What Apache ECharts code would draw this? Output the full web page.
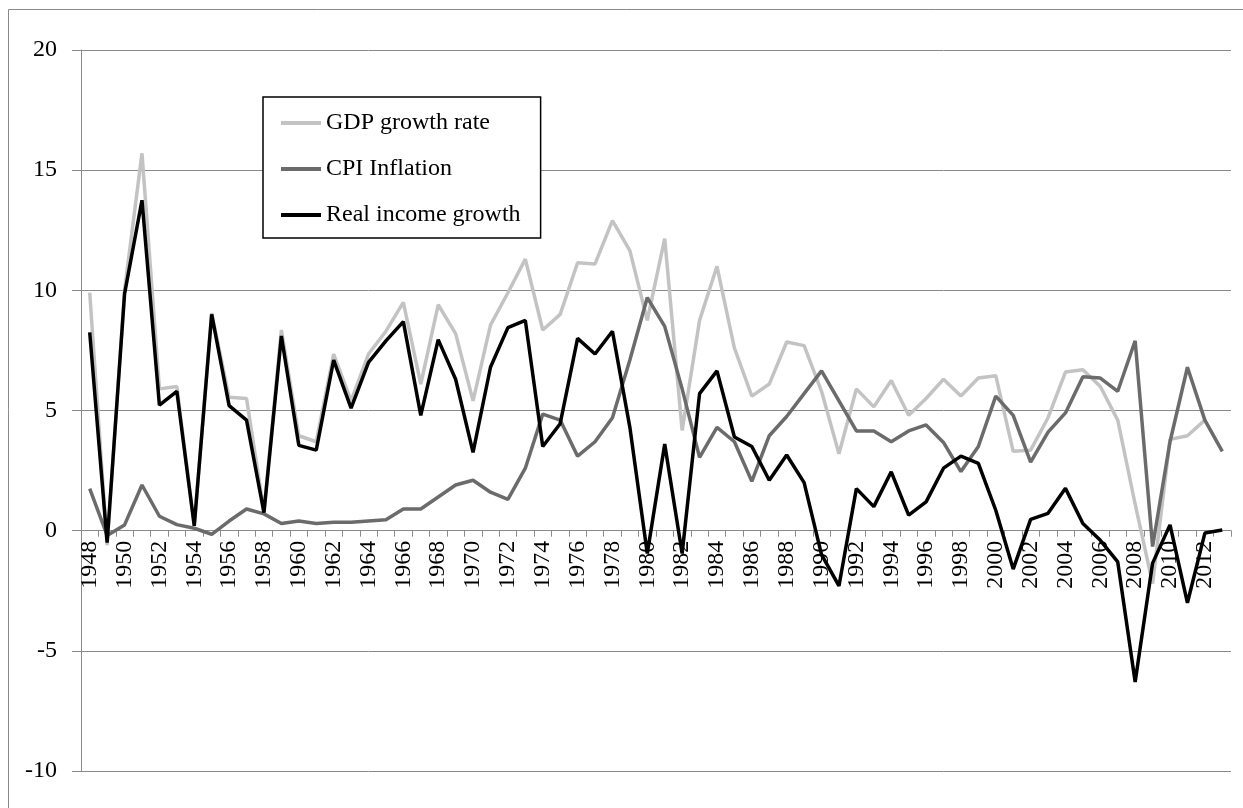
<!DOCTYPE html>
<html>
<head>
<meta charset="utf-8">
<script src="https://cdn.jsdelivr.net/npm/echarts@6/dist/echarts.min.js"></script>
<style>
html,body{margin:0;padding:0;background:#fff;}
#chart{width:1243px;height:808px;}
</style>
</head>
<body>
<div id="chart"></div>
<script>
const years = [];
for (let y = 1948; y <= 2013; y++) years.push(String(y));

const gdpGrowth = [
  9.9, -0.6, 10.0, 15.7, 5.9, 6.0, 0.2, 9.05, 5.55, 5.5,
  0.8, 8.35, 3.95, 3.7, 7.35, 5.4, 7.35, 8.3, 9.5, 6.1,
  9.4, 8.2, 5.4, 8.55, 9.9, 11.3, 8.35, 9.0, 11.15, 11.1,
  12.9, 11.65, 8.75, 12.15, 4.17, 8.75, 11.0, 7.6, 5.6, 6.1,
  7.85, 7.7, 5.8, 3.2, 5.9, 5.15, 6.25, 4.8, 5.5, 6.3,
  5.6, 6.35, 6.45, 3.3, 3.35, 4.7, 6.6, 6.7, 6.0, 4.6,
  1.1, -2.2, 3.8, 3.95, 4.6, null
];

const cpiInflation = [
  1.75, -0.2, 0.24, 1.9, 0.6, 0.25, 0.1, -0.15, 0.4, 0.9,
  0.7, 0.3, 0.4, 0.3, 0.35, 0.35, 0.4, 0.45, 0.9, 0.9,
  1.4, 1.9, 2.1, 1.6, 1.3, 2.6, 4.85, 4.6, 3.1, 3.7,
  4.7, 7.1, 9.7, 8.5, 5.9, 3.05, 4.3, 3.7, 2.05, 3.95,
  4.75, 5.7, 6.65, 5.4, 4.15, 4.15, 3.7, 4.15, 4.4, 3.67,
  2.46, 3.5, 5.6, 4.8, 2.85, 4.1, 4.9, 6.4, 6.35, 5.8,
  7.9, -0.66, 3.7, 6.8, 4.6, 3.3
];

const realIncomeGrowth = [
  8.25, -0.5, 9.85, 13.75, 5.22, 5.8, 0.2, 9.0, 5.2, 4.6,
  0.75, 8.1, 3.55, 3.35, 7.1, 5.1, 7.0, 7.9, 8.7, 4.8,
  7.95, 6.3, 3.26, 6.8, 8.45, 8.75, 3.5, 4.45, 8.0, 7.35,
  8.3, 4.3, -0.95, 3.6, -0.95, 5.7, 6.65, 3.9, 3.5, 2.1,
  3.15, 2.0, -1.0, -2.3, 1.75, 1.0, 2.45, 0.65, 1.2, 2.6,
  3.1, 2.8, 0.85, -1.6, 0.47, 0.72, 1.76, 0.3, -0.4, -1.3,
  -6.3, -1.35, 0.24, -3.0, -0.1, 0.03
];

const seriesNames = ['GDP growth rate', 'CPI Inflation', 'Real income growth'];
const yTicks = { min: -10, max: 20, interval: 5 };

const FONT = "'Liberation Serif', 'Times New Roman', serif";
const GRID_TOP = 50, GRID_BOTTOM = 37, H = 808;
const plotH = H - GRID_TOP - GRID_BOTTOM;
// shift the category axis from the plot bottom up to the zero line
const zeroShift = -plotH * (0 - yTicks.min) / (yTicks.max - yTicks.min);

const chart = echarts.init(document.getElementById('chart'), null, { renderer: 'canvas' });

chart.setOption({
  animation: false,
  backgroundColor: '#ffffff',
  graphic: [{
    type: 'rect',
    silent: true,
    z: -10,
    shape: { x: 8.5, y: 9.5, width: 1300, height: 900 },
    style: { fill: 'none', stroke: '#8a8a8a', lineWidth: 1 }
  }],
  grid: { left: 81, right: 12, top: GRID_TOP, bottom: GRID_BOTTOM, containLabel: false },
  legend: {
    orient: 'vertical',
    left: 263,
    top: 97,
    data: seriesNames.map(n => ({ name: n, icon: 'rect' })),
    itemWidth: 40,
    itemHeight: 4,
    itemGap: 22,
    padding: [14, 20, 11, 18],
    borderColor: '#000',
    borderWidth: 1.5,
    backgroundColor: '#fff',
    textStyle: { fontFamily: FONT, fontSize: 24, color: '#000' },
    selectedMode: false
  },
  xAxis: {
    type: 'category',
    data: years,
    boundaryGap: true,
    position: 'bottom',
    offset: zeroShift,
    axisLine: { onZero: false, lineStyle: { color: '#8a8a8a', width: 1 } },
    axisTick: { show: true, interval: 0, length: 6, lineStyle: { color: '#8a8a8a' } },
    axisLabel: {
      interval: 1,
      rotate: 90,
      margin: 10,
      fontFamily: FONT,
      fontSize: 24,
      color: '#000'
    },
    splitLine: { show: false }
  },
  yAxis: {
    type: 'value',
    min: yTicks.min,
    max: yTicks.max,
    interval: yTicks.interval,
    axisLine: { show: true, lineStyle: { color: '#8a8a8a', width: 1 } },
    axisTick: { show: true, length: 9, lineStyle: { color: '#8a8a8a' } },
    axisLabel: { margin: 24, fontFamily: FONT, fontSize: 24, color: '#000' },
    splitLine: { show: true, lineStyle: { color: '#8a8a8a', width: 1 } }
  },
  series: [
    {
      name: seriesNames[0], type: 'line', data: gdpGrowth, showSymbol: false, symbol: 'none',
      lineStyle: { color: '#c3c3c3', width: 3.5 }, itemStyle: { color: '#c3c3c3' }, z: 2
    },
    {
      name: seriesNames[1], type: 'line', data: cpiInflation, showSymbol: false, symbol: 'none',
      lineStyle: { color: '#6b6b6b', width: 3.5 }, itemStyle: { color: '#6b6b6b' }, z: 3
    },
    {
      name: seriesNames[2], type: 'line', data: realIncomeGrowth, showSymbol: false, symbol: 'none',
      lineStyle: { color: '#000000', width: 3.5 }, itemStyle: { color: '#000000' }, z: 4
    }
  ]
});
</script>
</body>
</html>
